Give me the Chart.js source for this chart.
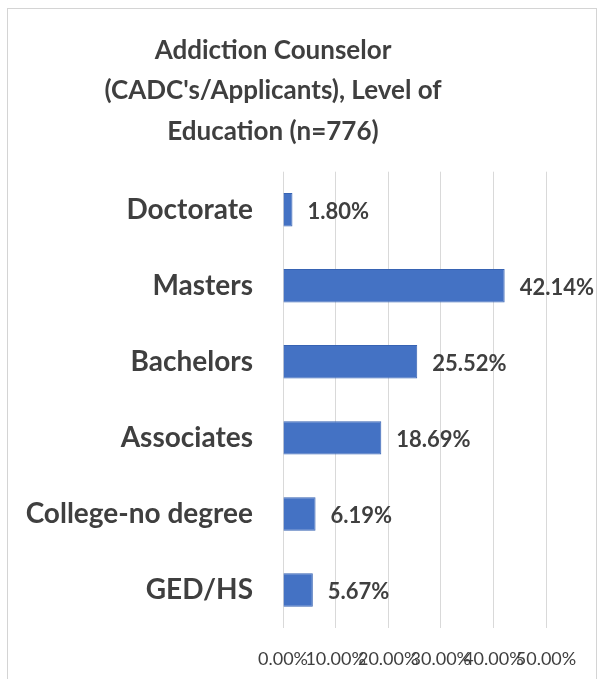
<!DOCTYPE html>
<html>
<head>
<meta charset="utf-8">
<script src="https://cdn.jsdelivr.net/npm/chart.js@4.4.1/dist/chart.umd.min.js"></script>
<style>
  html, body { margin: 0; padding: 0; background: #fff; }
  #wrap { position: relative; width: 604px; height: 679px; }
  #frame { position: absolute; left: 7px; top: 8px; width: 590px; height: 680px; border: 1px solid #d4d4d4; box-sizing: border-box; pointer-events: none; }
</style>
</head>
<body>
<div id="wrap">
  <canvas id="chart" width="604" height="679"></canvas>
  <div id="frame"></div>
</div>
<script>
// Data
const titleLines = ['Addiction Counselor', "(CADC's/Applicants), Level of", 'Education (n=776)'];
const categories = ['Doctorate', 'Masters', 'Bachelors', 'Associates', 'College-no degree', 'GED/HS'];
const percents = [1.80, 42.14, 25.52, 18.69, 6.19, 5.67];
const xTicks = [0, 10, 20, 30, 40, 50];

const FONT = 'Lato, Carlito, Calibri, sans-serif';
const TEXT_COLOR = '#3f3f3f';

// draws the value next to each bar
const valueLabels = {
  id: 'valueLabels',
  afterDatasetsDraw(chart) {
    const ctx = chart.ctx;
    const meta = chart.getDatasetMeta(0);
    ctx.save();
    ctx.font = 'bold 22px ' + FONT;
    ctx.fillStyle = TEXT_COLOR;
    ctx.textAlign = 'left';
    ctx.textBaseline = 'middle';
    meta.data.forEach((bar, i) => {
      ctx.fillText(percents[i].toFixed(2) + '%', bar.x + 15, bar.y + 2);
    });
    ctx.restore();
  }
};

const ctx = document.getElementById('chart').getContext('2d');
const chart = new Chart(ctx, {
  type: 'bar',
  data: {
    labels: categories,
    datasets: [{
      data: percents,
      backgroundColor: '#4472c4',
      borderColor: '#3763b3',
      borderWidth: 1,
      categoryPercentage: 0.44,
      barPercentage: 1
    }]
  },
  options: {
    indexAxis: 'y',
    responsive: false,
    animation: false,
    layout: { padding: { left: 0, right: 58, top: 30, bottom: 9 } },
    plugins: {
      legend: { display: false },
      tooltip: { enabled: false },
      title: {
        display: true,
        text: titleLines,
        color: TEXT_COLOR,
        font: { family: FONT, size: 26, weight: 'bold', lineHeight: 1.56 },
        padding: { top: 0, bottom: 20 }
      }
    },
    scales: {
      x: {
        min: 0,
        max: 50,
        afterBuildTicks(scale) {
          scale.ticks = xTicks.map(v => ({ value: v }));
        },
        afterFit(scale) { scale.height = 42; },
        ticks: {
          autoSkip: false,
          maxRotation: 0,
          padding: 20,
          color: TEXT_COLOR,
          font: { family: FONT, size: 18 },
          callback: v => v.toFixed(2) + '%'
        },
        grid: { color: '#d9d9d9', drawTicks: false },
        border: { display: false }
      },
      y: {
        afterFit(scale) { scale.width = 283; },
        ticks: {
          padding: 22,
          color: TEXT_COLOR,
          font: { family: FONT, size: 28, weight: 'bold' }
        },
        grid: { display: false },
        border: { display: false }
      }
    }
  },
  plugins: [valueLabels]
});
</script>
</body>
</html>
